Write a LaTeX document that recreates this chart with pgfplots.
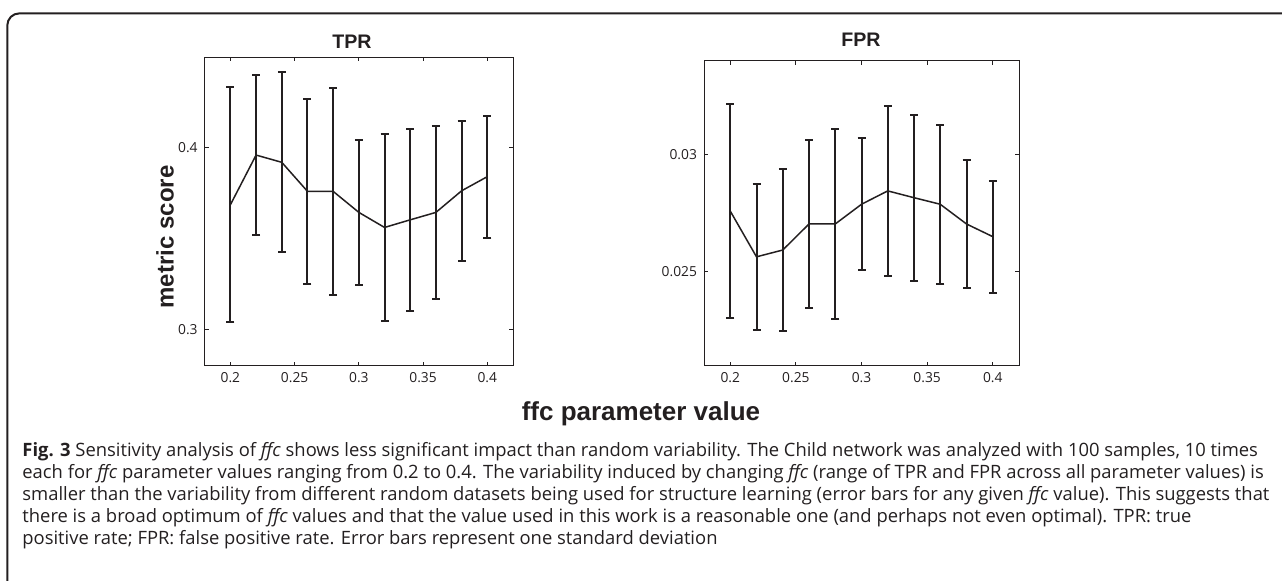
\documentclass[border=0pt]{standalone}
\usepackage{fontspec}
\setmainfont{Open Sans}
\newfontfamily\arial{Liberation Sans}
\usepackage{pgfplots}
\pgfplotsset{compat=1.18}
\usepackage{pgfplotstable}

\definecolor{ink}{HTML}{231F20}

% mean and one standard deviation
\pgfplotstableread{
x    y      e
0.20 0.3687 0.0648
0.22 0.3961 0.0440
0.24 0.3921 0.0496
0.26 0.3761 0.0508
0.28 0.3761 0.0572
0.30 0.3645 0.0398
0.32 0.3562 0.0513
0.34 0.3604 0.0501
0.36 0.3645 0.0477
0.38 0.3764 0.0387
0.40 0.3842 0.0337
}\tprdata

\pgfplotstableread{
x    y       e
0.20 0.02759 0.00457
0.22 0.02564 0.00312
0.24 0.02593 0.00347
0.26 0.02704 0.00358
0.28 0.02704 0.00406
0.30 0.02788 0.00282
0.32 0.02845 0.00363
0.34 0.02816 0.00353
0.36 0.02788 0.00338
0.38 0.02704 0.00273
0.40 0.02650 0.00239
}\fprdata

\pgfplotsset{
  panel/.style={
    scale only axis, anchor=south west,
    xmin=0.18, xmax=0.42,
    xtick={0.2,0.25,0.3,0.35,0.4},
    xticklabels={0.2,0.25,0.3,0.35,0.4},
    scaled y ticks=false,
    tick align=inside, tick pos=both,
    major tick length=2pt,
    axis line style={ink, line width=0.5pt},
    every tick/.style={ink, line width=0.5pt},
    tick label style={font=\fontsize{6.9}{7.5}\selectfont, text=ink},
  },
  series/.style={
    ink, line width=0.75pt, mark=none,
    error bars/.cd, y dir=both, y explicit,
    error bar style={line width=1pt},
    error mark options={rotate=90, mark size=2pt, line width=1pt},
  },
}

\begin{document}
\begin{tikzpicture}
\useasboundingbox (0,0) rectangle (641pt,290.5pt);

\draw[ink, line width=1pt, rounded corners=6pt] (3.65pt,-10pt) -- (3.65pt,283.8pt) -- (660pt,283.8pt);

\begin{axis}[panel, at={(102.35pt,107.65pt)}, width=154.15pt, height=154.2pt,
  ymin=0.28, ymax=0.45, ytick={0.3,0.4}, yticklabels={0.3,0.4}]
\addplot[series] table[x=x, y=y, y error=e] {\tprdata};
\end{axis}

\begin{axis}[panel, at={(352pt,107.65pt)}, width=157.5pt, height=152.5pt,
  ymin=0.021, ymax=0.034, ytick={0.025,0.03}, yticklabels={0.025,0.03}]
\addplot[series] table[x=x, y=y, y error=e] {\fprdata};
\end{axis}

\node[anchor=base, text=ink, font=\arial\bfseries\fontsize{9.8}{10}\selectfont] at (176pt,266.3pt) {TPR};
\node[anchor=base, text=ink, font=\arial\bfseries\fontsize{9.8}{10}\selectfont] at (430.5pt,267.2pt) {FPR};
\node[rotate=90, text=ink, font=\arial\bfseries\fontsize{12}{13}\selectfont] at (82.5pt,172pt) {metric score};
\node[anchor=base, text=ink, font=\arial\bfseries\fontsize{13}{14}\selectfont] at (320.5pt,80pt) {ffc parameter value};

\begin{scope}[every node/.style={anchor=base west, inner sep=0pt, text=ink, font=\fontsize{9.2}{11}\selectfont}]
\node at (11pt,62pt) {\textbf{Fig. 3} Sensitivity analysis of \emph{ffc} shows less significant impact than random variability. The Child network was analyzed with 100 samples, 10 times};
\node at (11pt,51pt) {each for \emph{ffc} parameter values ranging from 0.2 to 0.4. The variability induced by changing \emph{ffc} (range of TPR and FPR across all parameter values) is};
\node at (11pt,40pt) {smaller than the variability from different random datasets being used for structure learning (error bars for any given \emph{ffc} value). This suggests that};
\node at (11pt,29pt) {there is a broad optimum of \emph{ffc} values and that the value used in this work is a reasonable one (and perhaps not even optimal). TPR: true};
\node at (11pt,18pt) {positive rate; FPR: false positive rate. Error bars represent one standard deviation};
\end{scope}
\end{tikzpicture}
\end{document}
